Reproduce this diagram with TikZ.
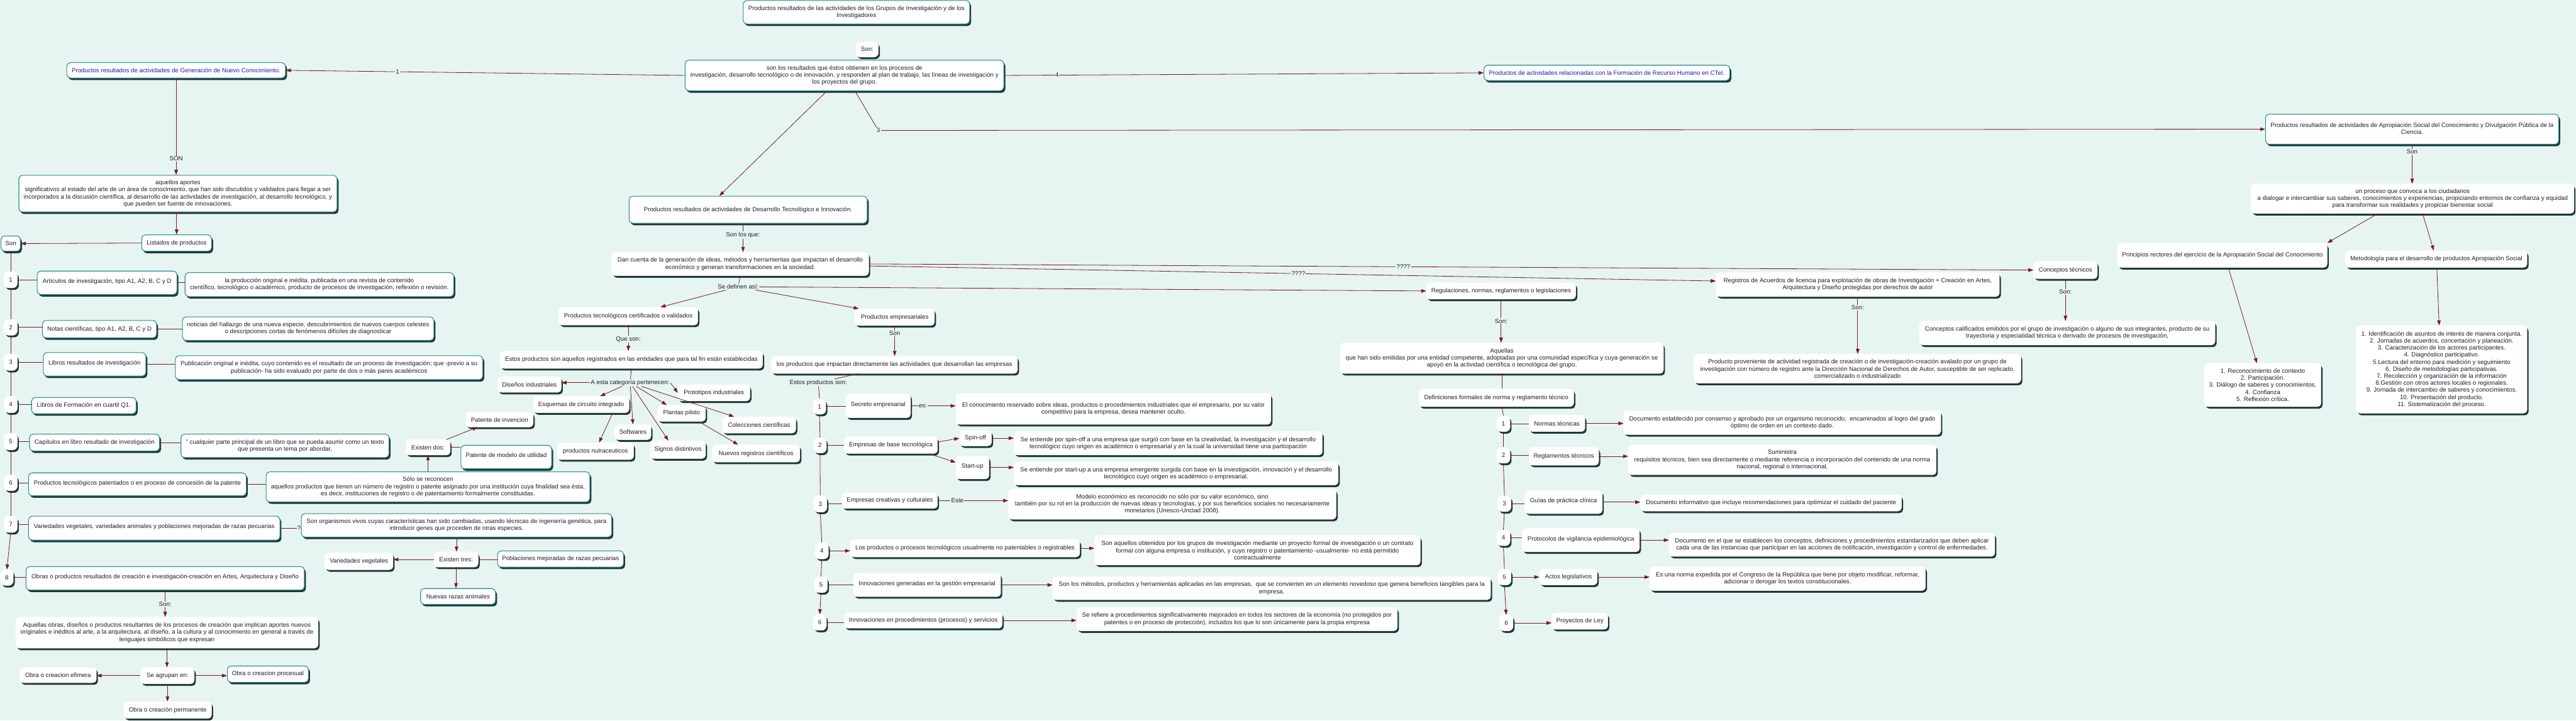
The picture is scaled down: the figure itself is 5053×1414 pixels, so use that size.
\documentclass[tikz,border=0pt]{standalone}
\usepackage{fontspec}
\setmainfont{Liberation Sans}
\usetikzlibrary{arrows.meta,shadows,calc}
\definecolor{bgc}{HTML}{E6F5F1}
\definecolor{teal1}{HTML}{2A8C8E}
\definecolor{shd}{HTML}{1F3838}
\definecolor{lnc}{HTML}{7A1A2A}
\definecolor{txt}{HTML}{1E1E2A}
\definecolor{blu}{HTML}{1A1AB8}
\newcommand\fs{\fontsize{12}{13.8}\selectfont}
\newcommand\rz[2]{\raisebox{#1pt}{\begin{tabular}{@{}c@{}}#2\end{tabular}}}
\newcommand\bx[7]{\node[#1,minimum width={#5pt-#3pt},minimum height={#6pt-#4pt}] (#2) at ({(#3+#5)/2},{(#4+#6)/2}) {#7};}
\begin{document}
\begin{tikzpicture}[x=1pt,y=-1pt,
 base/.style={fill=white, rounded corners=7pt, align=center, font=\fs, text=txt, inner sep=2pt,
   drop shadow={shadow xshift=3pt, shadow yshift=-4pt, fill=shd, opacity=1}},
 tb/.style={base, draw=teal1, line width=1.3pt},
 wb/.style={base, draw=white, line width=0.6pt},
 numc/.style={wb, rounded corners=9pt},
 ln/.style={draw=lnc, line width=1pt},
 arr/.style={ln, -{Triangle[width=7pt,length=10pt]}},
 lbl/.style={fill=bgc, inner sep=1.5pt, font=\fs, text=txt}]
\fill[bgc] (0,0) rectangle (5053,1414);
\useasboundingbox (0,0) rectangle (5053,1414);
% ---------- top ----------
\bx{tb}{title}{1458}{1}{1902}{47}{Productos resultados de las actividades de los Grupos de Investigación y de los\\Investigadores}
\bx{numc}{son0}{1679}{82}{1723}{112}{Son:}
\bx{tb}{main}{1344}{118}{1969}{178}{son los resultados que éstos obtienen en los procesos de\\investigación, desarrollo tecnológico o de innovación, y responden al plan de trabajo, las líneas de investigación y\\los proyectos del grupo.}
\bx{tb,text=blu}{gencon}{131}{123}{560}{153}{Productos resultados de actividades de Generación de Nuevo Conocimiento.}
\bx{tb,text=blu}{formrh}{2911}{128}{3393}{158}{Productos de actividades relacionadas con la Formación de Recurso Humano en CTeI.}
\bx{tb}{aprop}{4444}{224}{5019}{283}{\rz{7.5}{Productos resultados de actividades de Apropiación Social del Conocimiento y Divulgación Pública de la\\Ciencia.}}
\bx{tb}{destec}{1234}{385}{1701}{438}{Productos resultados de actividades de Desarrollo Tecnológico e Innovación.}
% ---------- left branch ----------
\bx{tb}{aportes}{37}{344}{661}{416}{aquellos aportes\\significativos al estado del arte de un área de conocimiento, que han sido discutidos y validados para llegar a ser\\incorporados a la discusión científica, al desarrollo de las actividades de investigación, al desarrollo tecnológico, y\\que pueden ser fuente de innovaciones.}
\bx{tb}{listados}{278}{461}{415}{493}{Listados de productos}
\bx{tb}{sonL}{2}{463}{40}{493}{Son}
\bx{numc}{c1}{8}{533}{34}{565}{1}
\bx{numc}{c2}{8}{627}{34}{658}{2}
\bx{numc}{c3}{8}{695}{34}{727}{3}
\bx{numc}{c4}{8}{778}{34}{810}{4}
\bx{numc}{c5}{8}{850}{34}{883}{5}
\bx{numc}{c6}{8}{932}{34}{963}{6}
\bx{numc}{c7}{8}{1013}{34}{1045}{7}
\bx{numc}{c8}{1}{1118}{26}{1149}{8}
\bx{tb}{art}{73}{532}{347}{578}{\rz{8}{Artículos de investigación, tipo A1, A2, B, C y D}}
\bx{tb}{artdef}{363}{535}{890}{582}{la producción original e inédita, publicada en una revista de contenido\\científico, tecnológico o académico, producto de procesos de investigación, reflexión o revisión.}
\bx{tb}{notas}{83}{629}{307}{663}{Notas científicas, tipo A1, A2, B, C y D}
\bx{tb}{notasdef}{358}{622}{851}{668}{noticias del hallazgo de una nueva especie, descubrimientos de nuevos cuerpos celestes\\o descripciones cortas de fenómenos difíciles de diagnosticar}
\bx{tb}{libros}{85}{692}{286}{738}{\rz{8}{Libros resultados de investigación}}
\bx{tb}{librosdef}{344}{698}{947}{745}{Publicación original e inédita, cuyo contenido es el resultado de un proceso de investigación; que -previo a su\\publicación- ha sido evaluado por parte de dos o más pares académicos}
\bx{tb}{libform}{62}{780}{267}{812}{Libros de Formación en cuartil Q1.}
\bx{tb}{cap}{58}{852}{313}{885}{Capítulos en libro resultado de investigación}
\bx{tb}{capdef}{355}{852}{763}{898}{" cualquier parte principal de un libro que se pueda asumir como un texto\\que presenta un tema por abordar,}
\bx{tb}{prodpat}{56}{928}{483}{973}{\rz{7.5}{Productos tecnológicos patentados o en proceso de concesión de la patente}}
\bx{tb}{solodef}{522}{926}{1157}{985}{Sólo se reconocen\\aquellos productos que tienen un número de registro o patente asignado por una institución cuya finalidad sea ésta,\\es decir, instituciones de registro o de patentamiento formalmente constituidas.}
\bx{wb}{exdos}{796}{863}{883}{893}{Existen dos:}
\bx{wb}{patinv}{914}{809}{1046}{838}{Patente de invencion}
\bx{tb}{patmod}{904}{874}{1082}{920}{\rz{9}{Patente de modelo de utilidad}}
\bx{tb}{var}{56}{1013}{549}{1060}{\rz{7.5}{Variedades vegetales, variedades animales y poblaciones mejoradas de razas pecuarias}}
\bx{tb}{orgv}{591}{1008}{1200}{1054}{Son organismos vivos cuyas características han sido cambiadas, usando técnicas de ingeniería genética, para\\introducir genes que proceden de otras especies.}
\bx{wb}{ext3}{851}{1083}{938}{1113}{Existen tres:}
\bx{wb}{varveg}{637}{1085}{771}{1118}{Variedades vegetales}
\bx{tb}{pobl}{976}{1081}{1223}{1113}{Poblaciones mejoradas de razas pecuarias}
\bx{tb}{nrazas}{825}{1155}{972}{1186}{Nuevas razas animales}
\bx{tb}{obras}{51}{1112}{597}{1158}{\rz{8}{Obras o productos resultados de creación e investigación-creación en Artes, Arquitectura y Diseño}}
\bx{wb}{aqo}{31}{1211}{624}{1272}{Aquellas obras, diseños o productos resultantes de los procesos de creación que implican aportes nuevos\\originales e inéditos al arte, a la arquitectura, al diseño, a la cultura y al conocimiento en general a través de\\lenguajes simbólicos que expresan}
\bx{wb}{sea}{276}{1310}{381}{1342}{Se agrupan en:}
\bx{wb}{efim}{39}{1310}{189}{1340}{Obra o creacion efimera}
\bx{tb}{procs}{446}{1307}{605}{1339}{Obra o creacion procesual}
\bx{wb}{perm}{243}{1377}{415}{1410}{Obra o creación permanente}
% ---------- middle branch ----------
\bx{wb}{dan}{1200}{495}{1704}{541}{Dan cuenta de la generación de ideas, métodos y herramientas que impactan el desarrollo\\económico y generan transformaciones en la sociedad.}
\bx{wb}{ptc}{1096}{603}{1369}{638}{Productos tecnológicos certificados o validados}
\bx{wb}{pemp}{1677}{606}{1833}{639}{Productos empresariales}
\bx{wb}{estos}{981}{689}{1496}{723}{Estos productos son aquellos registrados en las entidades que para tal fin están establecidas}
\bx{wb}{dis}{976}{739}{1101}{770}{Diseños industriales}
\bx{wb}{esq}{1046}{778}{1234}{810}{Esquemas de circuito integrado}
\bx{wb}{soft}{1206}{833}{1277}{863}{Softwares}
\bx{wb}{nutra}{1093}{869}{1243}{902}{productos nutraceuticos}
\bx{wb}{sig}{1276}{865}{1384}{900}{Signos distintivos}
\bx{wb}{proto}{1330}{755}{1471}{787}{Prototipos industriales}
\bx{wb}{plan}{1290}{795}{1384}{827}{Plantas piloto}
\bx{wb}{col}{1417}{818}{1561}{850}{Colecciones científicas}
\bx{wb}{nreg}{1397}{873}{1569}{907}{Nuevos registros científicos}
\bx{wb}{pimp}{1513}{699}{1996}{733}{los productos que impactan directamente las actividades que desarrollan las empresas}
\bx{numc}{ec1}{1595}{783}{1620}{813}{1}
\bx{numc}{ec2}{1596}{859}{1621}{889}{2}
\bx{numc}{ec3}{1596}{973}{1622}{1005}{3}
\bx{numc}{ec4}{1599}{1065}{1625}{1097}{4}
\bx{numc}{ec5}{1598}{1132}{1623}{1163}{5}
\bx{numc}{ec6}{1595}{1206}{1621}{1237}{6}
\bx{wb}{secreto}{1659}{773}{1786}{820}{\rz{7.5}{Secreto empresarial}}
\bx{wb}{secdef}{1875}{772}{2493}{833}{El conocimiento reservado sobre ideas, productos o procedimientos industriales que el empresario, por su valor\\competitivo para la empresa, desea mantener oculto.}
\bx{wb}{ebt}{1656}{857}{1839}{890}{Empresas de base tecnológica}
\bx{wb}{spin}{1882}{845}{1945}{875}{Spin-off}
\bx{wb}{start}{1875}{895}{1940}{940}{\rz{7.5}{Start-up}}
\bx{wb}{spindef}{1989}{847}{2594}{893}{Se entiende por spin-off a una empresa que surgió con base en la creatividad, la investigación y el desarrollo\\tecnológico cuyo origen es académico o empresarial y en la cual la universidad tiene una participación}
\bx{wb}{startdef}{1989}{906}{2625}{952}{Se entiende por start-up a una empresa emergente surgida con base en la investigación, innovación y el desarrollo\\tecnológico cuyo origen es académico o empresarial.}
\bx{wb}{creat}{1652}{967}{1839}{998}{Empresas creativas y culturales}
\bx{wb}{creatdef}{1978}{960}{2621}{1019}{Modelo económico es reconocido no sólo por su valor económico, sino\\también por su rol en la producción de nuevas ideas y tecnologías, y por sus beneficios sociales no necesariamente\\monetarios (Unesco-Unctad 2008).}
\bx{wb}{nopat}{1668}{1059}{2118}{1093}{Los productos o procesos tecnológicos usualmente no patentables o registrables}
\bx{wb}{npd}{2147}{1051}{2786}{1109}{Son aquellos obtenidos por los grupos de investigación mediante un proyecto formal de investigación o un contrato\\formal con alguna empresa o institución, y cuyo registro o patentamiento -usualmente- no está permitido\\contractualmente}
\bx{wb}{gest}{1674}{1125}{1963}{1171}{\rz{8}{Innovaciones generadas en la gestión empresarial}}
\bx{wb}{gestdef}{2065}{1132}{2924}{1177}{Son los métodos, productos y herramientas aplicadas en las empresas,~ que se convierten en un elemento novedoso que genera beneficios tangibles para la\\empresa.}
\bx{wb}{innproc}{1656}{1202}{1966}{1233}{Innovaciones en procedimientos (procesos) y servicios}
\bx{wb}{procdef}{2112}{1192}{2741}{1238}{Se refiere a procedimientos significativamente mejorados en todos los sectores de la economía (no protegidos por\\patentes o en proceso de protección), incluidos los que lo son únicamente para la propia empresa}
% ---------- right branch ----------
\bx{wb}{regul}{2798}{555}{3091}{587}{Regulaciones, normas, reglamentos o legislaciones}
\bx{wb}{regis}{3366}{535}{3922}{582}{Registros de Acuerdos de licencia para explotación de obras de Investigación + Creación en Artes,\\Arquitectura y Diseño protegidas por derechos de autor}
\bx{wb}{prodprov}{3323}{695}{3964}{752}{Producto proveniente de actividad registrada de creación o de investigación-creación avalado por un grupo de\\investigación con número de registro ante la Dirección Nacional de Derechos de Autor, susceptible de ser replicado,\\comercializado o industrializado}
\bx{wb}{aquel}{2629}{673}{3263}{733}{Aquellas\\que han sido emitidas por una entidad competente, adoptadas por una comunidad específica y cuya generación se\\apoyó en la actividad científica o tecnológica del grupo.}
\bx{wb}{defform}{2783}{763}{3087}{798}{Definiciones formales de norma y reglamento técnico}
\bx{numc}{rc1}{2936}{816}{2962}{847}{1}
\bx{numc}{rc2}{2936}{878}{2962}{909}{2}
\bx{numc}{rc3}{2938}{973}{2964}{1004}{3}
\bx{numc}{rc4}{2936}{1040}{2962}{1071}{4}
\bx{numc}{rc5}{2938}{1117}{2964}{1148}{5}
\bx{numc}{rc6}{2941}{1207}{2968}{1238}{6}
\bx{wb}{normas}{2999}{815}{3109}{847}{Normas técnicas}
\bx{wb}{normdef}{3185}{806}{3807}{853}{Documento establecido por consenso y aprobado por un organismo reconocido,~ encaminados al logro del grado\\óptimo de orden en un contexto dado.}
\bx{wb}{regl}{2999}{878}{3136}{913}{Reglamentos técnicos}
\bx{wb}{regldef}{3194}{873}{3798}{932}{Suministra\\requisitos técnicos, bien sea directamente o mediante referencia o incorporación del contenido de una norma\\nacional, regional o internacional,}
\bx{wb}{guias}{2991}{963}{3143}{1008}{\rz{7.5}{Guías de práctica clínica}}
\bx{wb}{guiasdef}{3218}{971}{3730}{1003}{Documento informativo que incluye recomendaciones para optimizar el cuidado del paciente}
\bx{wb}{prot}{2986}{1037}{3216}{1083}{\rz{7}{Protocolos de vigilancia epidemiológica}}
\bx{wb}{protdef}{3274}{1046}{3913}{1092}{Documento en el que se establecen los conceptos, definiciones y procedimientos estandarizados que deben aplicar\\cada una de las instancias que participan en las acciones de notificación, investigación y control de enfermedades.}
\bx{wb}{actos}{3020}{1117}{3133}{1148}{Actos legislativos}
\bx{wb}{actosdef}{3236}{1112}{3777}{1159}{Es una norma expedida por el Congreso de la República que tiene por objeto modificar, reformar,\\adicionar o derogar los textos constitucionales.}
\bx{wb}{proy}{3044}{1203}{3154}{1235}{Proyectos de Ley}
\bx{wb}{conct}{3989}{513}{4114}{547}{Conceptos técnicos}
\bx{wb}{concal}{3765}{630}{4345}{677}{Conceptos calificados emitidos por el grupo de investigación o alguno de sus integrantes, producto de su\\trayectoria y especialidad técnica o derivado de procesos de investigación,}
\bx{wb}{proceso}{4416}{361}{5049}{419}{un proceso que convoca a los ciudadanos\\a dialogar e intercambiar sus saberes, conocimientos y experiencias, propiciando entornos de confianza y equidad\\para transformar sus realidades y propiciar bienestar social}
\bx{wb}{princ}{4154}{477}{4565}{525}{Principios rectores del ejercicio de la Apropiación Social del Conocimiento}
\bx{wb}{metod}{4601}{492}{4957}{525}{Metodología para el desarrollo de productos Apropiación Social}
\bx{wb}{list1}{4324}{713}{4553}{798}{1. Reconocimiento de contexto\\2. Participación.\\3. Diálogo de saberes y conocimientos.\\4. Confianza\\5. Reflexión crítica.}
\bx{wb}{list2}{4622}{639}{4957}{811}{1. Identificación de asuntos de interés de manera conjunta.\\2. Jornadas de acuerdos, concertación y planeación.\\3. Caracterización de los actores participantes.\\4. Diagnóstico participativo.\\5.Lectura del entorno para medición y seguimiento\\6. Diseño de metodologías participativas.\\7. Recolección y organización de la información\\8.Gestión con otros actores locales o regionales.\\9. Jornada de intercambio de saberes y conocimientos.\\10. Presentación del producto.\\11. Sistematización del proceso.}
% ---------- connectors: top ----------
\draw[arr] (main.west) -- node[lbl,pos=0.72]{1} (gencon.east);
\draw[arr] (main.east) -- node[lbl,pos=0.11]{4} (formrh.west);
\coordinate (k3) at (1723,256);
\draw[arr] ([xshift=20.5pt]main.south) -- (k3) -- (aprop.west);
\node[lbl] (l3) at (k3) {3};
\draw[arr] ([xshift=-34.5pt]main.south) -- ([xshift=-56.5pt]destec.north);
% ---------- connectors: left ----------
\draw[arr] (gencon.south) -- node[lbl,pos=0.83]{SON} (gencon.south |- aportes.north);
\draw[arr] (aportes.south -| listados.north) -- (listados.north);
\draw[arr] (listados.west) -- (sonL.east);
\draw[ln] (sonL.south) -- (c1.north);
\draw[ln] (c1.south) -- (c2.north);
\draw[ln] (c2.south) -- (c3.north);
\draw[ln] (c3.south) -- (c4.north);
\draw[ln] (c4.south) -- (c5.north);
\draw[ln] (c5.south) -- (c6.north);
\draw[ln] (c6.south) -- (c7.north);
\draw[arr] (c7.south) -- (c8.north);
\draw[ln] (c1.east) -- (c1.east -| art.west);
\draw[ln] (art.east) -- (art.east -| artdef.west);
\draw[ln] (c2.east) -- (c2.east -| notas.west);
\draw[ln] (notas.east) -- (notas.east -| notasdef.west);
\draw[ln] (c3.east) -- (c3.east -| libros.west);
\draw[ln] (libros.east) -- (libros.east -| librosdef.west);
\draw[ln] (c4.east) -- (c4.east -| libform.west);
\draw[ln] (c5.east) -- (c5.east -| cap.west);
\draw[ln] (cap.east) -- (cap.east -| capdef.west);
\draw[ln] (c6.east) -- (c6.east -| prodpat.west);
\draw[ln] (prodpat.east) -- (prodpat.east -| solodef.west);
\draw[arr] (solodef.north) -- (solodef.north |- exdos.south);
\draw[arr] ([xshift=-8pt]exdos.north east) -- ([xshift=23pt]patinv.south west);
\draw[ln] (exdos.east) -- (exdos.east -| patmod.west);
\draw[ln] (c7.east) -- (c7.east -| var.west);
\draw[ln] (var.east) -- node[lbl,pos=0.9,inner sep=0.5pt]{?} (var.east -| orgv.west);
\draw[arr] (orgv.south) -- (orgv.south |- ext3.north);
\draw[arr] (ext3.west) -- (ext3.west -| varveg.east);
\draw[ln] (ext3.east) -- (ext3.east -| pobl.west);
\draw[arr] (ext3.south) -- (ext3.south |- nrazas.north);
\draw[ln] (c8.east) -- (c8.east -| obras.west);
\draw[arr] (obras.south) -- node[lbl,pos=0.53]{Son:} (obras.south |- aqo.north);
\draw[arr] (aqo.south) -- (aqo.south |- sea.north);
\draw[arr] (sea.west) -- (sea.west -| efim.east);
\draw[arr] (sea.east) -- (sea.east -| procs.west);
\draw[arr] (sea.south) -- (sea.south |- perm.north);
% ---------- connectors: middle ----------
\draw[arr] ([xshift=-10pt]destec.south) -- node[lbl,pos=0.4]{Son los que:} ([xshift=5.5pt]dan.north);
\draw[arr] (dan.east) -- node[lbl,pos=0.459]{????} (conct.west);
\draw[arr] ([yshift=-4pt]dan.east) -- node[lbl,pos=0.507]{????} ([yshift=7pt]regis.west);
\node[lbl] (sedef) at (1448,563) {Se definen así:};
\draw[ln] (dan.south) -- (sedef);
\draw[arr] (sedef) -- ([xshift=63pt]ptc.north);
\draw[arr] (sedef) -- ([xshift=8pt]pemp.north west);
\draw[arr] (sedef.east) -- (regul.west);
\draw[arr] (ptc.south) -- node[lbl,pos=0.55]{Que son:} (ptc.south |- estos.north);
\node[lbl] (acat) at (1236,751) {A esta categoría pertenecen:};
\draw[ln] (estos.south) -- (acat);
\draw[arr] (acat.west) -- (acat.west -| dis.east);
\draw[arr] (acat) -- ([xshift=37pt]esq.north);
\draw[arr] (acat) -- (soft.north);
\draw[arr] (acat) -- ([xshift=-19pt]sig.north);
\draw[arr] (acat) -- ([xshift=-29pt]plan.north);
\draw[arr] (acat.east) -- (proto.west);
\draw[arr] (acat) -- ([xshift=-49pt]col.north);
\draw[arr] ([xshift=62pt]esq.south) -- ([xshift=7pt]nutra.north);
\draw[arr] ([xshift=34pt]plan.south) -- ([xshift=-35pt]nreg.north);
\draw[arr] (pemp.south) -- node[lbl,pos=0.25]{Son} (pemp.south |- pimp.north);
\node[lbl] (eps) at (1605,751) {Estos productos son:};
\draw[ln] ([xshift=-71pt]pimp.south) -- (eps);
\draw[ln] (eps) -- (ec1.north);
\draw[ln] (ec1.south) -- (ec2.north);
\draw[ln] (ec2.south) -- (ec3.north);
\draw[ln] (ec3.south) -- (ec4.north);
\draw[ln] (ec4.south) -- (ec5.north);
\draw[arr] (ec5.south) -- (ec6.north);
\draw[ln] (ec1.east) -- (ec1.east -| secreto.west);
\draw[arr] (secreto.east) -- node[lbl,pos=0.27]{es:} (secreto.east -| secdef.west);
\draw[ln] (ec2.east) -- (ec2.east -| ebt.west);
\draw[arr] ([yshift=6pt]ebt.east) -- (spin.west);
\draw[arr] ([xshift=-17pt]ebt.south east) -- ([yshift=10pt]start.west);
\draw[arr] (spin.east) -- (spin.east -| spindef.west);
\draw[arr] (start.east) -- (start.east -| startdef.west);
\draw[ln] (ec3.east) -- (ec3.east -| creat.west);
\draw[arr] (creat.east) -- node[lbl,pos=0.28]{Este} (creat.east -| creatdef.west);
\draw[arr] (ec4.east) -- (ec4.east -| nopat.west);
\draw[arr] (nopat.east) -- (nopat.east -| npd.west);
\draw[ln] (ec5.east) -- (ec5.east -| gest.west);
\draw[arr] (gest.east) -- (gest.east -| gestdef.west);
\draw[ln] (ec6.east) -- (ec6.east -| innproc.west);
\draw[arr] (innproc.east) -- (innproc.east -| procdef.west);
% ---------- connectors: right ----------
\draw[arr] (regul.south) -- node[lbl,pos=0.5]{Son:} (regul.south |- aquel.north);
\draw[ln] (aquel.south) -- (aquel.south |- defform.north);
\draw[ln] (aquel.south |- defform.south) -- (rc1.north);
\draw[ln] (rc1.south) -- (rc2.north);
\draw[ln] (rc2.south) -- (rc3.north);
\draw[ln] (rc3.south) -- (rc4.north);
\draw[ln] (rc4.south) -- (rc5.north);
\draw[arr] (rc5.south) -- (rc6.north);
\draw[ln] (rc1.east) -- (rc1.east -| normas.west);
\draw[arr] (normas.east) -- (normas.east -| normdef.west);
\draw[ln] (rc2.east) -- (rc2.east -| regl.west);
\draw[arr] (regl.east) -- (regl.east -| regldef.west);
\draw[ln] (rc3.east) -- (rc3.east -| guias.west);
\draw[arr] (guias.east) -- (guias.east -| guiasdef.west);
\draw[ln] (rc4.east) -- (rc4.east -| prot.west);
\draw[arr] (prot.east) -- (prot.east -| protdef.west);
\draw[arr] (rc5.east) -- (rc5.east -| actos.west);
\draw[arr] (actos.east) -- (actos.east -| actosdef.west);
\draw[arr] (rc6.east) -- (rc6.east -| proy.west);
\draw[arr] (regis.south) -- node[lbl,pos=0.19]{Son:} (regis.south |- prodprov.north);
\draw[arr] (conct.south) -- node[lbl,pos=0.31]{Son:} (conct.south |- concal.north);
\draw[arr] (aprop.south) -- node[lbl,pos=0.18]{Son} (aprop.south |- proceso.north);
\draw[arr] ([xshift=-68.5pt]proceso.south) -- (princ.north east);
\draw[arr] ([xshift=19.5pt]proceso.south) -- ([xshift=-5pt]metod.north);
\draw[arr] ([xshift=11.5pt]princ.south) -- ([xshift=-11.5pt]list1.north);
\draw[arr] ([xshift=1pt]metod.south) -- ([xshift=-5pt]list2.north);
\end{tikzpicture}
\end{document}
